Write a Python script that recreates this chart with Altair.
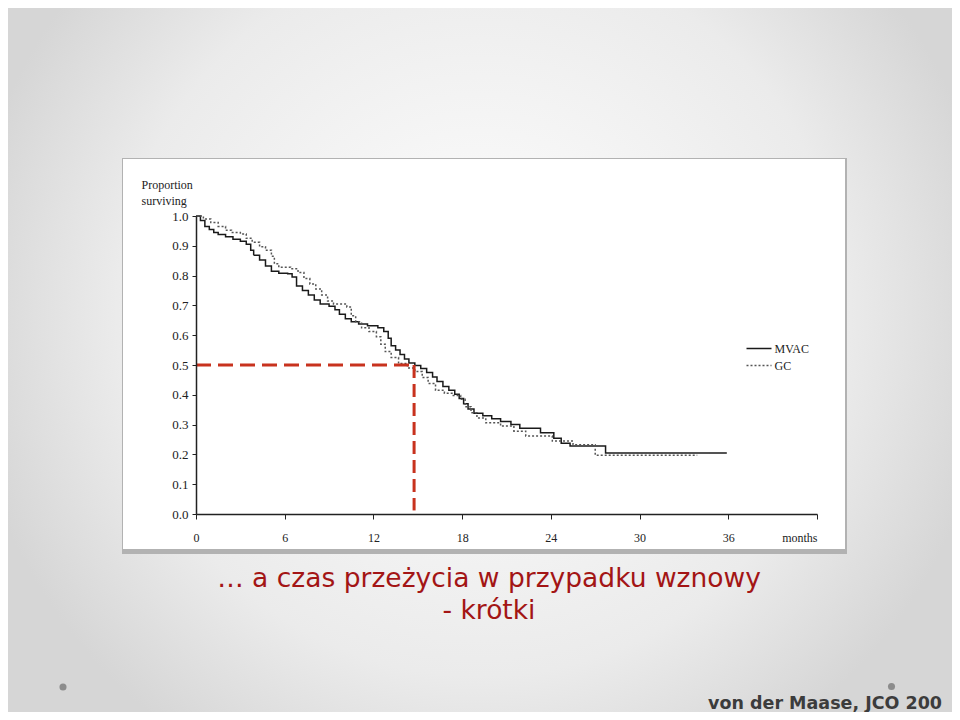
import altair as alt
import pandas as pd

# ---------------- data ----------------
mvac_month = [0, 0.3, 0.6, 0.9, 1.2, 1.5, 2.0, 2.5, 3.0, 3.4, 3.7, 3.9, 4.3, 4.7, 5.1, 5.6,
              6.2, 6.5, 6.8, 7.2, 7.6, 8.0, 8.4, 9.0, 9.4, 9.7, 10.1, 10.5, 11.0, 11.6, 12.3,
              12.7, 13.0, 13.2, 13.5, 13.8, 14.1, 14.4, 14.8, 15.2, 15.6, 16.0, 16.3, 16.7,
              17.1, 17.5, 17.8, 18.1, 18.4, 18.8, 19.4, 20.0, 20.6, 21.3, 21.9, 23.3, 24.2,
              24.7, 25.3, 27.7, 35.9]
mvac_surv = [1.0, 0.985, 0.965, 0.955, 0.945, 0.938, 0.93, 0.922, 0.915, 0.905, 0.885, 0.868,
             0.852, 0.832, 0.815, 0.808, 0.806, 0.795, 0.765, 0.75, 0.735, 0.718, 0.705, 0.697,
             0.685, 0.67, 0.655, 0.645, 0.638, 0.632, 0.625, 0.612, 0.59, 0.565, 0.55, 0.535,
             0.52, 0.507, 0.498, 0.488, 0.475, 0.46, 0.445, 0.428, 0.415, 0.402, 0.388, 0.37,
             0.352, 0.338, 0.33, 0.32, 0.31, 0.3, 0.288, 0.273, 0.254, 0.237, 0.228, 0.205,
             0.205]

gc_month = [0, 0.5, 1.0, 1.5, 2.0, 2.4, 3.0, 3.4, 3.8, 4.3, 4.7, 5.1, 5.3, 5.6, 6.4, 6.9,
            7.3, 7.7, 8.1, 8.5, 8.9, 9.3, 10.2, 10.5, 10.8, 11.2, 11.7, 12.2, 12.5, 12.8,
            13.2, 13.7, 14.3, 14.8, 15.3, 15.7, 16.2, 16.8, 17.4, 17.9, 18.2, 18.6, 19.0,
            19.6, 20.6, 21.5, 22.3, 24.1, 25.5, 27.0, 33.9]
gc_surv = [1.0, 0.99, 0.978, 0.965, 0.952, 0.945, 0.94, 0.925, 0.912, 0.897, 0.885, 0.865,
           0.84, 0.828, 0.823, 0.81, 0.79, 0.772, 0.755, 0.735, 0.715, 0.705, 0.695, 0.665,
           0.645, 0.625, 0.612, 0.595, 0.57, 0.545, 0.525, 0.505, 0.49, 0.478, 0.458, 0.438,
           0.415, 0.405, 0.398, 0.385, 0.36, 0.34, 0.322, 0.306, 0.295, 0.278, 0.262, 0.245,
           0.232, 0.197, 0.197]

arms = ["MVAC", "GC"]
x_ticks = [0, 6, 12, 18, 24, 30, 36, 42]
x_unit_label = "months"
y_ticks = [0.0, 0.1, 0.2, 0.3, 0.4, 0.5, 0.6, 0.7, 0.8, 0.9, 1.0]
y_title = ["Proportion", "surviving"]
median_month = [14.75]
median_level = [0.5]
median_floor = [0.012]
title_lines = ["\u2026 a czas prze\u017cycia w przypadku wznowy", "- kr\u00f3tki"]
citation = "von der Maase, JCO 200"

# ---------------- layout ----------------
W, H = 621, 298
PAD = {"left": 188, "top": 208, "right": 135, "bottom": 198}

km = pd.DataFrame({
    "month": mvac_month + gc_month,
    "surv": mvac_surv + gc_surv,
    "arm": [arms[0]] * len(mvac_month) + [arms[1]] * len(gc_month),
})
med_h = pd.DataFrame({"month": [0.0], "month2": median_month, "surv": median_level})
med_v = pd.DataFrame({"month": median_month, "surv": median_level, "surv2": median_floor})
one = pd.DataFrame({"k": [0]})

SERIF = "Liberation Serif"
xscale = alt.Scale(domain=[0, 42], nice=False, zero=False)
yscale = alt.Scale(domain=[0, 1], nice=False, zero=False)

xaxis = alt.Axis(
    values=x_ticks, title=None, grid=False, zindex=1,
    labelExpr=f"datum.value == 42 ? '{x_unit_label}' : datum.label",
    labelAlign={"condition": {"test": "datum.value == 42", "value": "right"}, "value": "center"},
    labelFont=SERIF, labelFontSize=12, labelColor="#222222",
    tickSize=5, tickColor="#222222", labelPadding=13,
    domainColor="#222222", domainWidth=1.5,
)
yaxis = alt.Axis(
    values=y_ticks, format=".1f", grid=False, zindex=1,
    title=y_title, titleAngle=0, titleAlign="left", titleBaseline="top",
    titleX=-55, titleY=-37, titleFont=SERIF, titleFontSize=12,
    titleFontWeight="normal", titleColor="#222222", titleLineHeight=16,
    labelFont=SERIF, labelFontSize=13, labelColor="#222222",
    tickSize=4, tickColor="#222222", labelPadding=4,
    domainColor="#222222", domainWidth=1.5,
)

x_enc = alt.X("month:Q", scale=xscale, axis=xaxis)
y_enc = alt.Y("surv:Q", scale=yscale, axis=yaxis)

bg_gradient = {
    "gradient": "radial",
    "x1": 0.5, "y1": 0.45, "r1": 0,
    "x2": 0.5, "y2": 0.45, "r2": 0.55,
    "stops": [
        {"offset": 0.0, "color": "#ffffff"},
        {"offset": 0.7, "color": "#ebebeb"},
        {"offset": 1.0, "color": "#d6d6d6"},
    ],
}

background = alt.Chart(one).mark_rect(fill=bg_gradient).encode(
    x=alt.value(-PAD["left"]), x2=alt.value(W + PAD["right"]),
    y=alt.value(-PAD["top"]), y2=alt.value(H + PAD["bottom"]),
)
shadow = alt.Chart(one).mark_rect(fill="#b2b2b2").encode(
    x=alt.value(-74), x2=alt.value(651), y=alt.value(-58), y2=alt.value(338),
)
panel = alt.Chart(one).mark_rect(fill="#ffffff").encode(
    x=alt.value(-73), x2=alt.value(649), y=alt.value(-57), y2=alt.value(333),
)

legend = alt.Legend(
    orient="none", legendX=549.5, legendY=124, title=None,
    symbolType="stroke", symbolSize=625, symbolStrokeWidth=1.4,
    labelFont=SERIF, labelFontSize=12, labelColor="#222222", labelOffset=2,
    clipHeight=17, padding=0, rowPadding=0,
)

curves = alt.Chart(km).mark_line(interpolate="step-after", strokeWidth=1.5).encode(
    x=x_enc, y=y_enc,
    color=alt.Color("arm:N", scale=alt.Scale(domain=arms, range=["#1a1a1a", "#555555"]), legend=legend),
    strokeDash=alt.StrokeDash("arm:N", scale=alt.Scale(domain=arms, range=[[1, 0], [2, 2]]), legend=legend),
)

red = "#c8321e"
hline = alt.Chart(med_h).mark_rule(color=red, strokeWidth=3, strokeDash=[15, 7]).encode(
    x=x_enc, x2="month2:Q", y=y_enc,
)
vline = alt.Chart(med_v).mark_rule(color=red, strokeWidth=3, strokeDash=[13, 6]).encode(
    x=x_enc, y=y_enc, y2="surv2:Q",
)

title = alt.Chart(one).mark_text(
    font="DejaVu Sans", fontSize=26.5, color="#a31515", align="center",
    baseline="alphabetic", lineHeight=31.5,
).encode(x=alt.value(293), y=alt.value(371), text=alt.value(title_lines))

cite = alt.Chart(one).mark_text(
    font="DejaVu Sans", fontSize=17.5, fontWeight="bold", color="#3c3c3c",
    align="left", baseline="alphabetic",
).encode(x=alt.value(512), y=alt.value(493), text=alt.value(citation))

dot_left = alt.Chart(one).mark_circle(size=50, color="#8c8c8c", opacity=1).encode(
    x=alt.value(-133), y=alt.value(471))
dot_right = alt.Chart(one).mark_circle(size=50, color="#8c8c8c", opacity=1).encode(
    x=alt.value(695.5), y=alt.value(470.5))

chart = alt.layer(
    background, shadow, panel, curves, hline, vline, title, cite, dot_left, dot_right
).properties(
    width=W, height=H, padding=PAD,
    autosize=alt.AutoSizeParams(type="none"),
).configure_view(stroke=None)

chart.save("out.html", embed_options={"renderer": "svg", "actions": False})
